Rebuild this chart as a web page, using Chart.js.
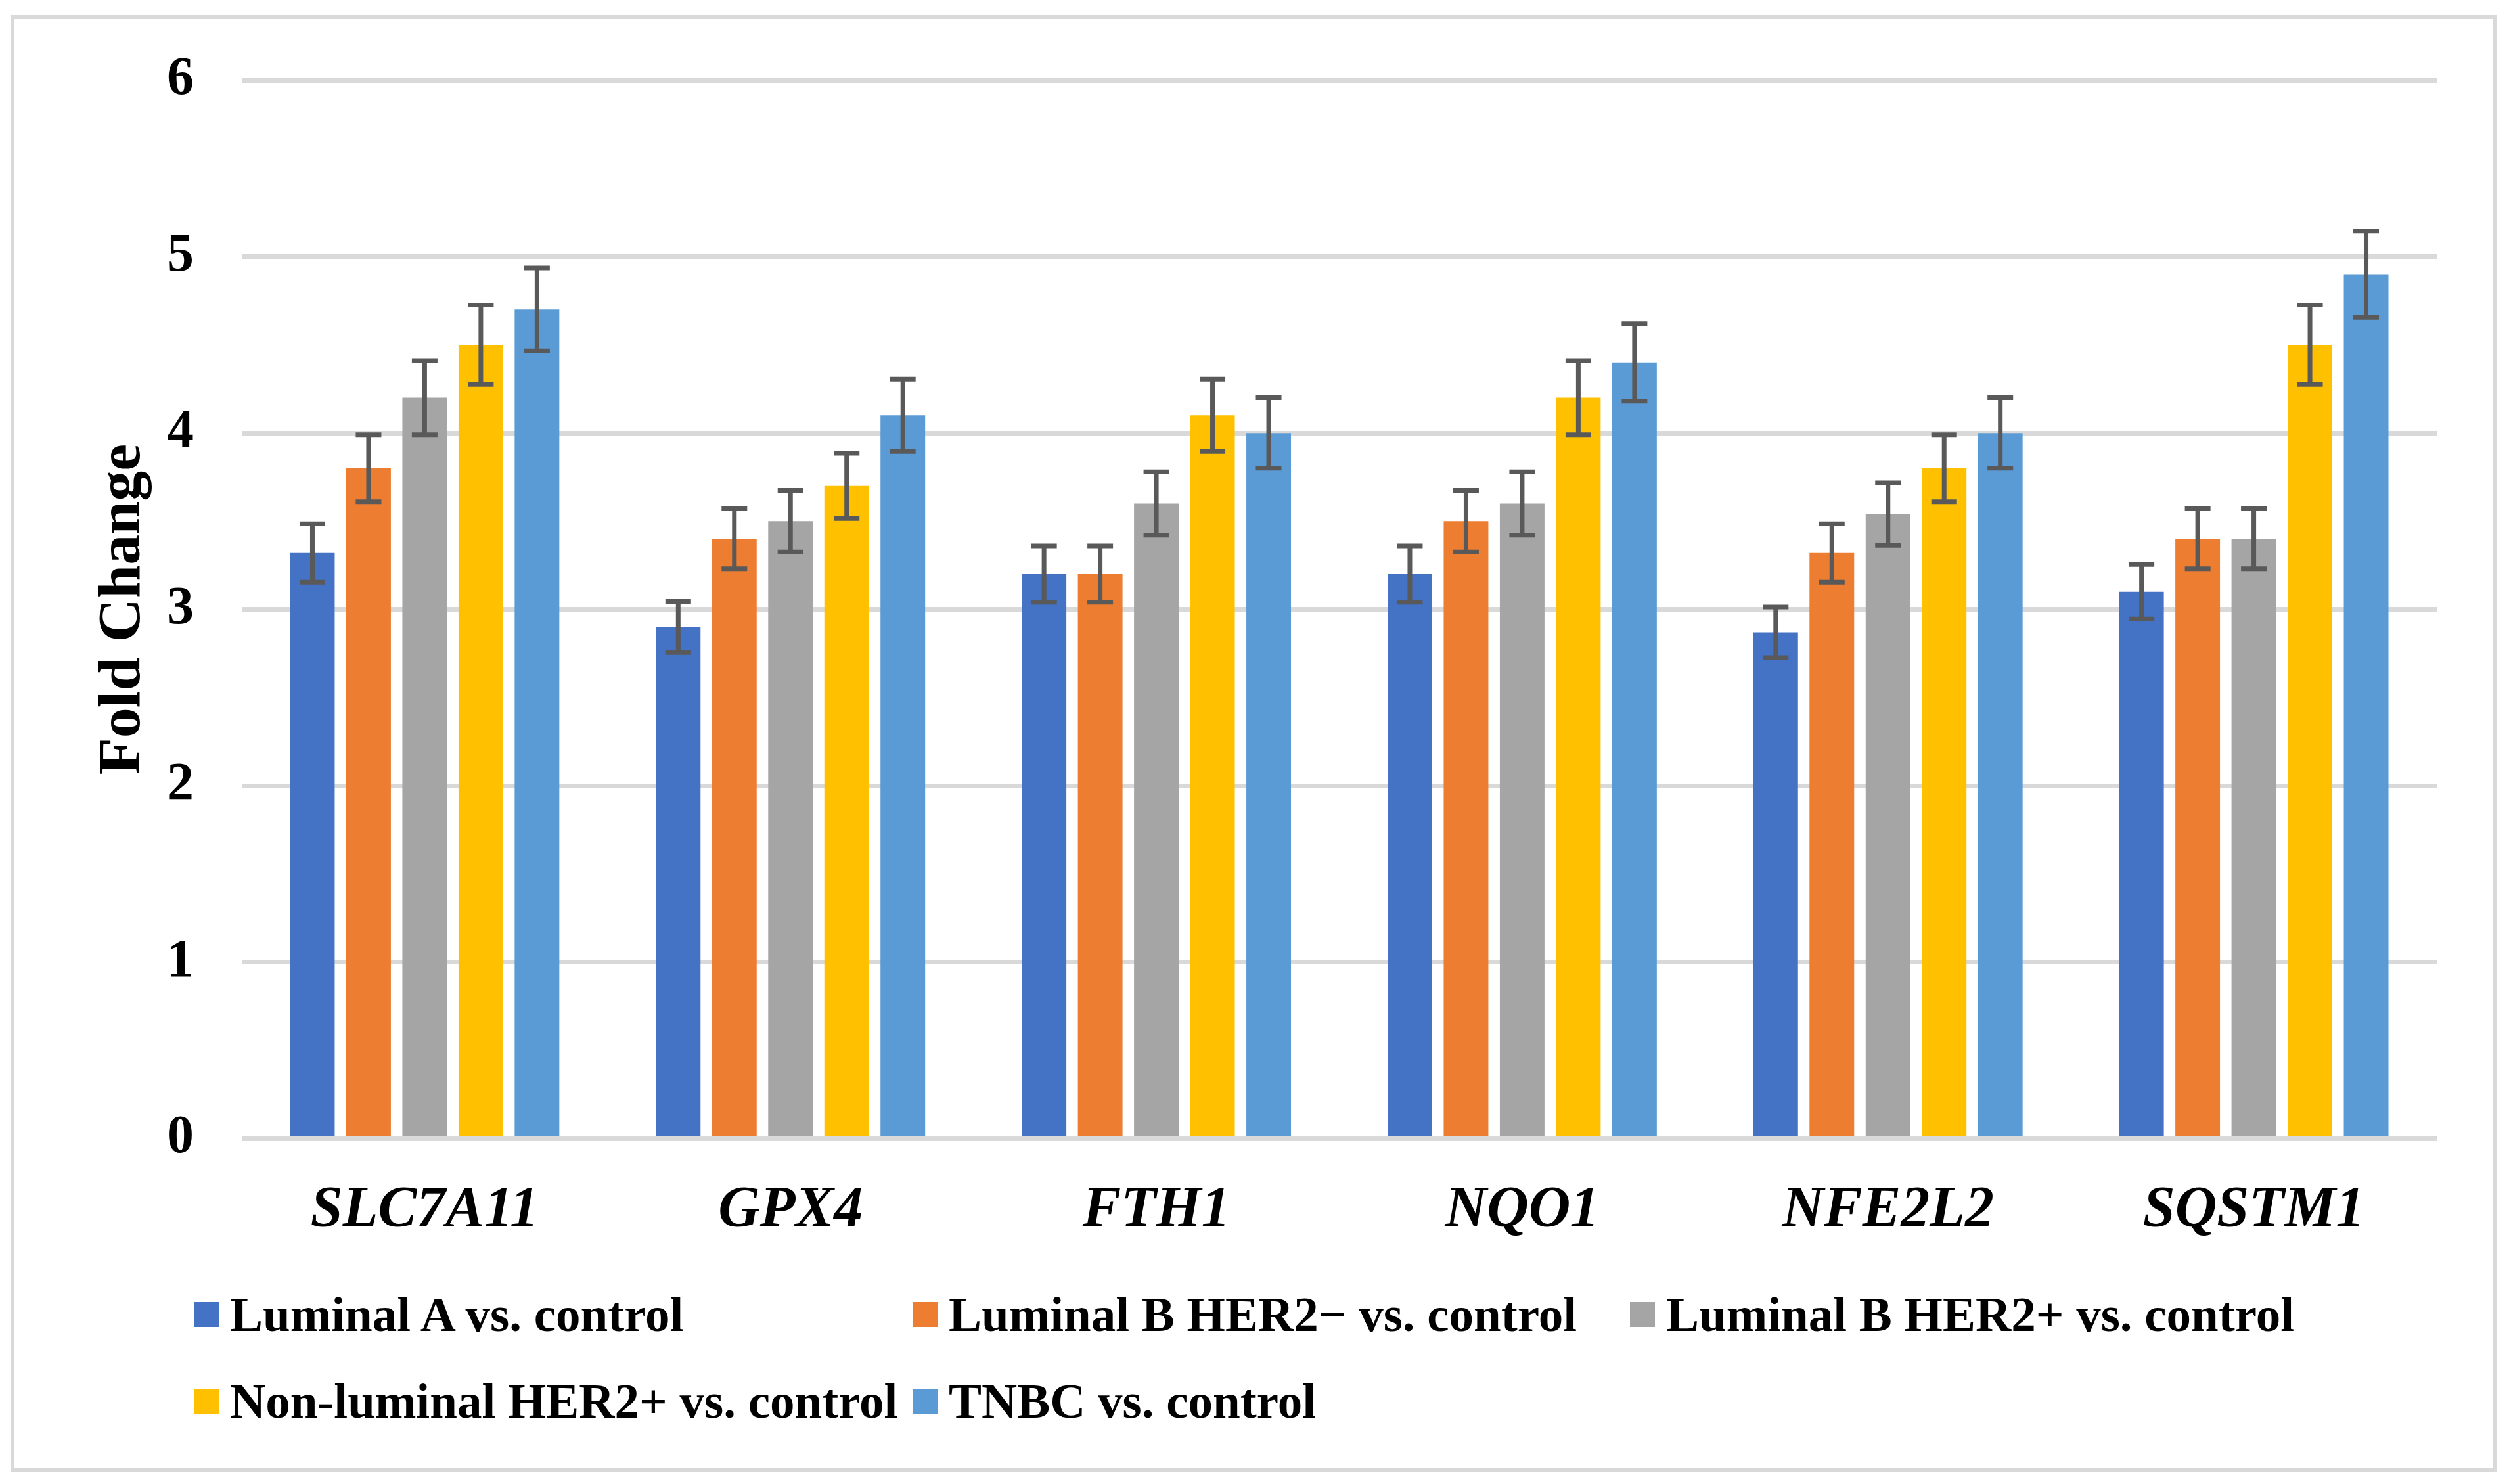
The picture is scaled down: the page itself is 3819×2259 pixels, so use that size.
<!DOCTYPE html>
<html>
<head>
<meta charset="utf-8">
<script src="https://cdn.jsdelivr.net/npm/chart.js@4.4.1/dist/chart.umd.min.js"></script>
<style>
  html, body { margin: 0; padding: 0; background: #fff; }
  #wrap { position: relative; width: 3819px; height: 2259px; overflow: hidden; }
  #frame { position: absolute; left: 16px; top: 23px; width: 3785px; height: 2217px;
    box-sizing: border-box; border: 6px solid #d9d9d9; }
  #chart { position: absolute; left: 0; top: 0; }
  .lg { position: absolute; display: flex; align-items: center; height: 38px;
    font: bold 75px 'Liberation Serif', 'Times New Roman', serif; color: #000; white-space: nowrap; }
  .lg i { display: inline-block; width: 38px; height: 38px; margin-right: 17px; }
</style>
</head>
<body>
<div id="wrap">
  <div id="frame"></div>
  <canvas id="chart" width="3819" height="2259"></canvas>
  <div id="legend"></div>
</div>
<script>
/* Fold change per gene, five subtype-vs-control comparisons, with error bars */
const FONT = "'Liberation Serif', 'Times New Roman', serif";

const genes = ['SLC7A11', 'GPX4', 'FTH1', 'NQO1', 'NFE2L2', 'SQSTM1'];
const seriesNames = [
  'Luminal A vs. control',
  'Luminal B HER2\u2212 vs. control',
  'Luminal B HER2+ vs. control',
  'Non-luminal HER2+ vs. control',
  'TNBC vs. control',
];
const colors = ['#4472c4', '#ed7d31', '#a5a5a5', '#ffc000', '#5b9bd5'];

const lumA     = [3.32, 2.90, 3.20, 3.20, 2.87, 3.10];
const lumBneg  = [3.80, 3.40, 3.20, 3.50, 3.32, 3.40];
const lumBpos  = [4.20, 3.50, 3.60, 3.60, 3.54, 3.40];
const nonLum   = [4.50, 3.70, 4.10, 4.20, 3.80, 4.50];
const tnbc     = [4.70, 4.10, 4.00, 4.40, 4.00, 4.90];

const errLumA    = [0.166, 0.145, 0.16, 0.16, 0.143, 0.155];
const errLumBneg = [0.19, 0.17, 0.16, 0.175, 0.166, 0.17];
const errLumBpos = [0.21, 0.175, 0.18, 0.18, 0.177, 0.17];
const errNonLum  = [0.225, 0.185, 0.205, 0.21, 0.19, 0.225];
const errTnbc    = [0.235, 0.205, 0.2, 0.22, 0.2, 0.245];

const yTicks = [0, 1, 2, 3, 4, 5, 6];

const values = [lumA, lumBneg, lumBpos, nonLum, tnbc];
const errors = [errLumA, errLumBneg, errLumBpos, errNonLum, errTnbc];

const errorBars = {
  id: 'errorBars',
  afterDatasetsDraw(chart) {
    const { ctx } = chart;
    const y = chart.scales.y;
    ctx.save();
    ctx.strokeStyle = '#595959';
    ctx.lineWidth = 7;
    chart.data.datasets.forEach((ds, i) => {
      const meta = chart.getDatasetMeta(i);
      meta.data.forEach((bar, j) => {
        const v = ds.data[j], e = errors[i][j];
        const top = y.getPixelForValue(v + e), bot = y.getPixelForValue(v - e);
        ctx.beginPath();
        ctx.moveTo(bar.x, top); ctx.lineTo(bar.x, bot);
        ctx.moveTo(bar.x - 19.5, top); ctx.lineTo(bar.x + 19.5, top);
        ctx.moveTo(bar.x - 19.5, bot); ctx.lineTo(bar.x + 19.5, bot);
        ctx.stroke();
      });
    });
    ctx.restore();
  },
};

new Chart(document.getElementById('chart'), {
  type: 'bar',
  data: {
    labels: genes,
    datasets: values.map((d, i) => ({
      label: seriesNames[i], data: d, backgroundColor: colors[i], borderWidth: 0,
      categoryPercentage: 0.7675, barPercentage: 0.795,
    })),
  },
  options: {
    responsive: false, animation: false, devicePixelRatio: 1,
    layout: { padding: { top: 117, right: 110, bottom: 366, left: 0 } },
    plugins: { legend: { display: false }, tooltip: { enabled: false } },
    scales: {
      x: {
        grid: { display: false }, border: { display: false },
        ticks: { color: '#000', padding: 49, maxRotation: 0, font: { family: FONT, size: 88, weight: 'bold', style: 'italic' } },
        afterFit: (s) => { s.height = 160; },
      },
      y: {
        min: 0, max: 6,
        afterBuildTicks: (s) => { s.ticks = yTicks.map((v) => ({ value: v })); },
        grid: { color: '#d9d9d9', lineWidth: 7, drawTicks: false }, border: { display: false },
        ticks: { color: '#000', padding: 73, font: { family: FONT, size: 82, weight: 'bold' } },
        title: { display: true, text: 'Fold Change', color: '#000', padding: { top: 133, bottom: 0 },
          font: { family: FONT, size: 92, weight: 'bold' } },
        afterFit: (s) => { s.width = 368; },
      },
    },
  },
  plugins: [errorBars],
});

// legend laid out in Excel-style columns
const legendPos = [[295, 1982], [1389, 1982], [2481, 1982], [295, 2114], [1389, 2114]];
const lg = document.getElementById('legend');
seriesNames.forEach((name, i) => {
  const el = document.createElement('div');
  el.className = 'lg';
  el.style.left = legendPos[i][0] + 'px';
  el.style.top = legendPos[i][1] + 'px';
  el.innerHTML = '<i style="background:' + colors[i] + '"></i>';
  el.appendChild(document.createTextNode(name));
  lg.appendChild(el);
});
</script>
</body>
</html>
